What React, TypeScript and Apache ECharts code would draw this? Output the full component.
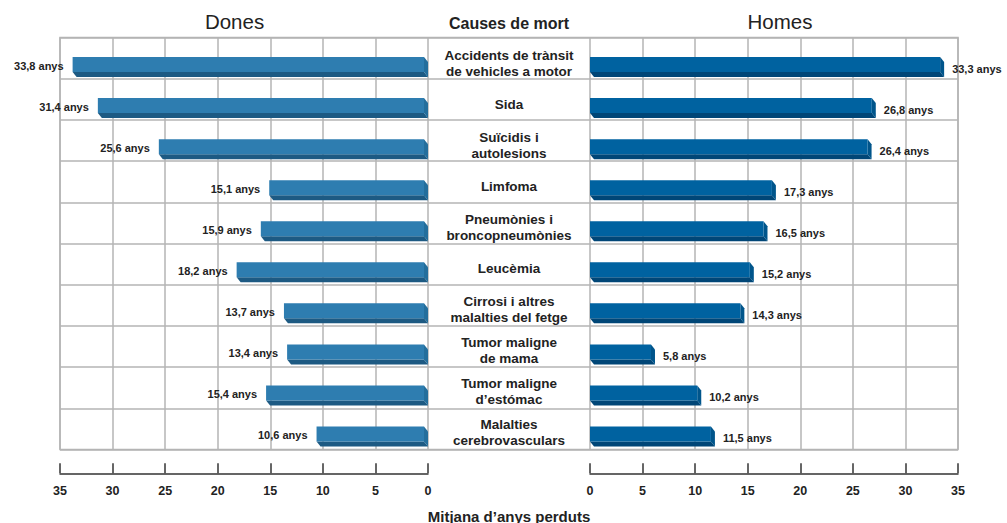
import React, { useEffect, useRef } from "react";
import * as echarts from "echarts";

const causes = [
  "Accidents de trànsit\nde vehicles a motor",
  "Sida",
  "Suïcidis i\nautolesions",
  "Limfoma",
  "Pneumònies i\nbroncopneumònies",
  "Leucèmia",
  "Cirrosi i altres\nmalalties del fetge",
  "Tumor maligne\nde mama",
  "Tumor maligne\nd’estómac",
  "Malalties\ncerebrovasculars",
];
const dones = [33.8, 31.4, 25.6, 15.1, 15.9, 18.2, 13.7, 13.4, 15.4, 10.6];
const homes = [33.3, 26.8, 26.4, 17.3, 16.5, 15.2, 14.3, 5.8, 10.2, 11.5];

const FONT = "'Liberation Sans', Arial, Helvetica, sans-serif";
const GRID_COLOR = "#b4b4b4";
const TEXT = "#222";

const fmt = (v: number) => v.toFixed(1).replace(".", ",") + " anys";

function makeRender(side: "L" | "R") {
  const colors =
    side === "L"
      ? { face: "#2e7db0", shadow: "#1d5a83", cap: "#246e9c" }
      : { face: "#0062a0", shadow: "#004677", cap: "#00558b" };
  return (params: any, api: any) => {
    const val = api.value(0);
    const idx = api.value(1);
    const pv = api.coord([val, idx]);
    const p0 = api.coord([0, idx]);
    const c = pv[1];
    const h = 15;
    const d = 4;
    const dy = 5;
    const top = c - 6;
    let xa: number, xb: number;
    if (side === "L") {
      xa = pv[0];
      xb = p0[0] - d;
    } else {
      xa = p0[0];
      xb = pv[0];
    }
    const bot = top + h;
    const children: any[] = [
      {
        type: "polygon",
        shape: { points: [[xa, bot], [xb, bot], [xb + d, bot + dy], [xa + d, bot + dy]] },
        style: { fill: colors.shadow },
      },
      {
        type: "polygon",
        shape: { points: [[xb, top], [xb + d, top + dy], [xb + d, bot + dy], [xb, bot]] },
        style: { fill: colors.cap },
      },
      {
        type: "rect",
        shape: { x: xa, y: top, width: xb - xa, height: h },
        style: { fill: colors.face },
      },
      {
        type: "text",
        style:
          side === "L"
            ? {
                x: xa - 9,
                y: c + 2.5,
                text: fmt(val),
                align: "right",
                verticalAlign: "middle",
                fill: TEXT,
                font: `bold 11px ${FONT}`,
              }
            : {
                x: xb + d + 8,
                y: c + 6,
                text: fmt(val),
                align: "left",
                verticalAlign: "middle",
                fill: TEXT,
                font: `bold 11px ${FONT}`,
              },
      },
    ];
    return { type: "group", children };
  };
}

export default function App() {
  const ref = useRef<HTMLDivElement>(null);
  useEffect(() => {
    if (!ref.current) return;
    const chart = echarts.init(ref.current, undefined, { renderer: "svg" });
    const axisVisible = {
      type: "value",
      min: 0,
      max: 35,
      interval: 5,
      position: "bottom",
      offset: 23.8,
      axisLine: { show: true, lineStyle: { color: "#333", width: 1.5 } },
      axisTick: { show: true, inside: true, length: 10, lineStyle: { color: "#333", width: 1.5 } },
      axisLabel: { show: true, margin: 11, color: TEXT, fontWeight: "bold", fontSize: 12.5, fontFamily: FONT },
      splitLine: { show: true, lineStyle: { color: GRID_COLOR, width: 1.5 } },
    };
    const axisHidden = { type: "value", min: 0, max: 35, interval: 5, show: false };
    const lineTop = 37.5;
    const lineBottom = 523 - 449.5;
    const contentTop = 42.5;
    const contentBottom = 523 - 453;
    chart.setOption({
      animation: false,
      backgroundColor: "#fff",
      grid: [
        { left: 60, right: 49, top: lineTop, bottom: lineBottom, show: true, borderColor: GRID_COLOR, borderWidth: 1.5, backgroundColor: "transparent" },
        { left: 60, right: 579, top: lineTop, bottom: lineBottom },
        { left: 590, right: 49, top: lineTop, bottom: lineBottom },
        { left: 60, right: 579, top: contentTop, bottom: contentBottom },
        { left: 590, right: 49, top: contentTop, bottom: contentBottom },
      ],
      xAxis: [
        { type: "value", gridIndex: 0, show: false, min: 0, max: 1 },
        { ...axisVisible, gridIndex: 1, inverse: true },
        { ...axisVisible, gridIndex: 2 },
        { ...axisHidden, gridIndex: 3, inverse: true },
        { ...axisHidden, gridIndex: 4 },
      ],
      yAxis: [
        {
          type: "category",
          gridIndex: 0,
          data: causes,
          inverse: true,
          axisLine: { show: false },
          axisTick: { show: false },
          axisLabel: { show: false },
          splitLine: { show: true, lineStyle: { color: GRID_COLOR, width: 1.5 } },
        },
        { type: "category", gridIndex: 1, data: causes, inverse: true, show: false },
        { type: "category", gridIndex: 2, data: causes, inverse: true, show: false },
        {
          type: "category",
          gridIndex: 3,
          data: causes,
          inverse: true,
          position: "right",
          axisLine: { show: false },
          axisTick: { show: false },
          splitLine: { show: false },
          axisLabel: {
            show: true,
            margin: 81,
            align: "center",
            verticalAlign: "middle",
            color: TEXT,
            fontWeight: "bold",
            fontSize: 13.5,
            fontFamily: FONT,
            lineHeight: 16,
            padding: [3, 0, 0, 0],
          },
        },
        { type: "category", gridIndex: 4, data: causes, inverse: true, show: false },
      ],
      series: [
        {
          type: "custom",
          xAxisIndex: 3,
          yAxisIndex: 3,
          renderItem: makeRender("L"),
          encode: { x: 0, y: 1 },
          data: dones.map((v, i) => [v, i]),
        },
        {
          type: "custom",
          xAxisIndex: 4,
          yAxisIndex: 4,
          renderItem: makeRender("R"),
          encode: { x: 0, y: 1 },
          data: homes.map((v, i) => [v, i]),
        },
      ],
      graphic: [
        {
          type: "text",
          x: 234.5,
          y: 21,
          style: { text: "Dones", align: "center", verticalAlign: "middle", fill: TEXT, font: `20.5px ${FONT}` },
        },
        {
          type: "text",
          x: 780,
          y: 21,
          style: { text: "Homes", align: "center", verticalAlign: "middle", fill: TEXT, font: `20.5px ${FONT}` },
        },
        {
          type: "text",
          x: 509,
          y: 23,
          style: { text: "Causes de mort", align: "center", verticalAlign: "middle", fill: TEXT, font: `bold 16px ${FONT}` },
        },
        {
          type: "text",
          x: 509,
          y: 516,
          style: { text: "Mitjana d’anys perduts", align: "center", verticalAlign: "middle", fill: TEXT, font: `bold 15px ${FONT}` },
        },
      ],
    });
    return () => chart.dispose();
  }, []);
  return (
    <div
      ref={ref}
      style={{ position: "fixed", left: 0, top: 0, width: 1007, height: 523 }}
    />
  );
}
